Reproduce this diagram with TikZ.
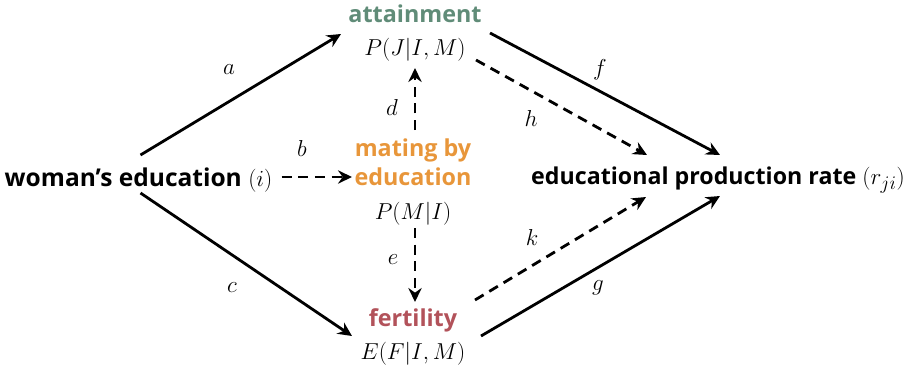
\documentclass[tikz,border=0pt]{standalone}
\usepackage{fontspec}
\setmainfont{Open Sans}
\usetikzlibrary{arrows.meta}
\definecolor{attgreen}{RGB}{96,140,120}
\definecolor{mateorange}{RGB}{232,150,58}
\definecolor{fertred}{RGB}{178,82,90}
\newcommand{\mth}[1]{{\mdseries\fontsize{19}{22}\selectfont$#1$}}
\begin{document}
\begin{tikzpicture}[x=0.75pt,y=-0.75pt,
  lbl/.style={font=\fontsize{17.5}{22}\selectfont\bfseries, align=center, inner sep=0pt},
  edgelbl/.style={font=\fontsize{19}{22}\selectfont, inner sep=0pt},
  conn/.style={line width=2.1pt, -{Stealth[length=10.5pt,width=10pt,inset=3.5pt]}},
  dconn/.style={conn, dash pattern=on 7.5pt off 5pt}]
\useasboundingbox (0,0) rectangle (913,368);
\node[lbl, font=\fontsize{18.4}{22}\selectfont\bfseries] (woman) at (138.5,180) {woman’s education \mth{(i)}};
\node[lbl] (attain) at (415,33) {\textcolor{attgreen}{attainment}\\[3pt] \mth{P(J|I,M)}};
\node[lbl] (mate) at (413,182) {\textcolor{mateorange}{mating by}\\\textcolor{mateorange}{education}\\[3pt] \mth{P(M|I)}};
\node[lbl] (fert) at (413,337) {\textcolor{fertred}{fertility}\\[3pt] \mth{E(F|I,M)}};
\node[lbl, font=\fontsize{17.4}{22}\selectfont\bfseries] (rate) at (718,180) {educational production rate \mth{(r_{ji})}};

\draw[conn] ([shift={(2,-25)}]woman.center) -- ([shift={(-74,1)}]attain.center);
\draw[conn] ([shift={(2,13)}]woman.center) -- ([shift={(-61,-1)}]fert.center);
\draw[dconn] ([shift={(143,-3)}]woman.center) -- ([shift={(-61,-5)}]mate.center);
\draw[dconn] ([shift={(2,-52)}]mate.center) -- ([shift={(0,35)}]attain.center);
\draw[dconn] ([shift={(2,46)}]mate.center) -- ([shift={(2,-35)}]fert.center);
\draw[conn] ([shift={(75,0)}]attain.center) -- ([shift={(2,-25)}]rate.center);
\draw[dconn] ([shift={(61,27)}]attain.center) -- ([shift={(-71,-25)}]rate.center);
\draw[dconn] ([shift={(62,-37)}]fert.center) -- ([shift={(-72,17)}]rate.center);
\draw[conn] ([shift={(68,-1)}]fert.center) -- ([shift={(2,16)}]rate.center);

\node[edgelbl] (la) at (229,70) {$a$};
\node[edgelbl] (lb) at (302,148) {$b$};
\node[edgelbl] (lc) at (232,288) {$c$};
\node[edgelbl] (ld) at (392,107) {$d$};
\node[edgelbl] (le) at (393,260) {$e$};
\node[edgelbl] (lf) at (600,70) {$f$};
\node[edgelbl] (lh) at (531,118) {$h$};
\node[edgelbl] (lk) at (532,237) {$k$};
\node[edgelbl] (lg) at (598,288) {$g$};
\end{tikzpicture}
\end{document}
